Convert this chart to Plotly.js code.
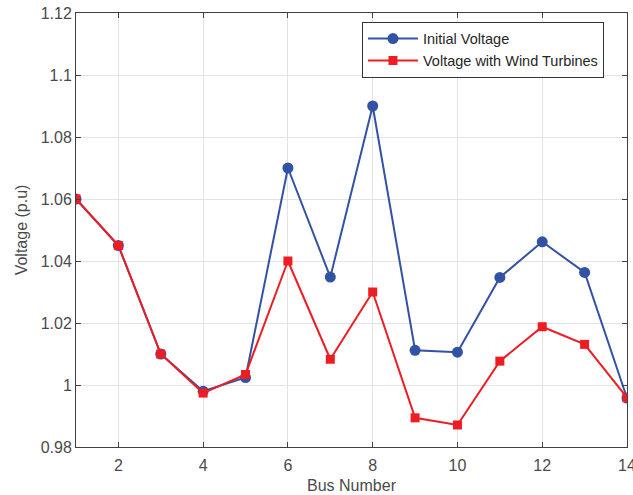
<!DOCTYPE html>
<html>
<head>
<meta charset="utf-8">
<script src="https://cdn.plot.ly/plotly-3.0.1.min.js"></script>
<style>html,body{margin:0;padding:0;background:#fff;}#chart{width:633px;height:495px;}</style>
</head>
<body>
<div id="chart"></div>
<script>
const busNumbers = [1,2,3,4,5,6,7,8,9,10,11,12,13,14];
const initialVoltage = [1.060,1.045,1.010,0.998,1.0024,1.070,1.0348,1.090,1.0112,1.0106,1.0347,1.0462,1.0363,0.9958];
const windVoltage = [1.060,1.045,1.010,0.9974,1.0034,1.040,1.0083,1.030,0.9894,0.9871,1.0077,1.0188,1.0131,0.9959];
const seriesNames = ["Initial Voltage","Voltage with Wind Turbines"];
const xTicks = [2,4,6,8,10,12,14];
const yTicks = [0.98,1.00,1.02,1.04,1.06,1.08,1.10,1.12];
const yTickText = ["0.98","1","1.02","1.04","1.06","1.08","1.1","1.12"];

const blue = "#3452a4";
const red = "#ee1d23";
const font = "Liberation Sans, Arial, Helvetica, sans-serif";

const traces = [
  {x: busNumbers, y: initialVoltage, name: seriesNames[0], type: "scatter", mode: "lines+markers",
   line: {color: blue, width: 2}, marker: {symbol: "circle", size: 11, color: blue}},
  {x: busNumbers, y: windVoltage, name: seriesNames[1], type: "scatter", mode: "lines+markers",
   line: {color: red, width: 2}, marker: {symbol: "square", size: 9, color: red}}
];

const axisCommon = {
  showline: true, linecolor: "#404040", linewidth: 1, mirror: "ticks",
  ticks: "inside", ticklen: 5, tickcolor: "#404040", tickwidth: 1,
  showgrid: true, gridcolor: "#e3e3e3", gridwidth: 1, zeroline: false,
  tickfont: {family: font, size: 16, color: "#4a4a4a"},
  ticklabeloverflow: "allow"
};

const layout = {
  width: 633, height: 495,
  margin: {l: 76, r: 6, t: 13, b: 48},
  paper_bgcolor: "#ffffff", plot_bgcolor: "#ffffff",
  font: {family: font, color: "#4a4a4a"},
  xaxis: Object.assign({}, axisCommon, {
    range: [1, 14], tickmode: "array", tickvals: xTicks,
    ticklabelstandoff: 4,
    title: {text: "Bus Number", font: {family: font, size: 16, color: "#4a4a4a"}, standoff: 6}
  }),
  yaxis: Object.assign({}, axisCommon, {
    range: [0.98, 1.12], tickmode: "array", tickvals: yTicks, ticktext: yTickText,
    title: {text: "Voltage (p.u)", font: {family: font, size: 16, color: "#4a4a4a"}, standoff: 9}
  }),
  legend: {
    x: 0.519, y: 0.98, xanchor: "left", yanchor: "top",
    bgcolor: "#ffffff", bordercolor: "#333333", borderwidth: 1,
    font: {family: font, size: 14.5, color: "#262626"},
    tracegroupgap: 0, itemwidth: 50
  },
  showlegend: true
};

Plotly.newPlot("chart", traces, layout, {displayModeBar: false, staticPlot: true});
</script>
</body>
</html>
